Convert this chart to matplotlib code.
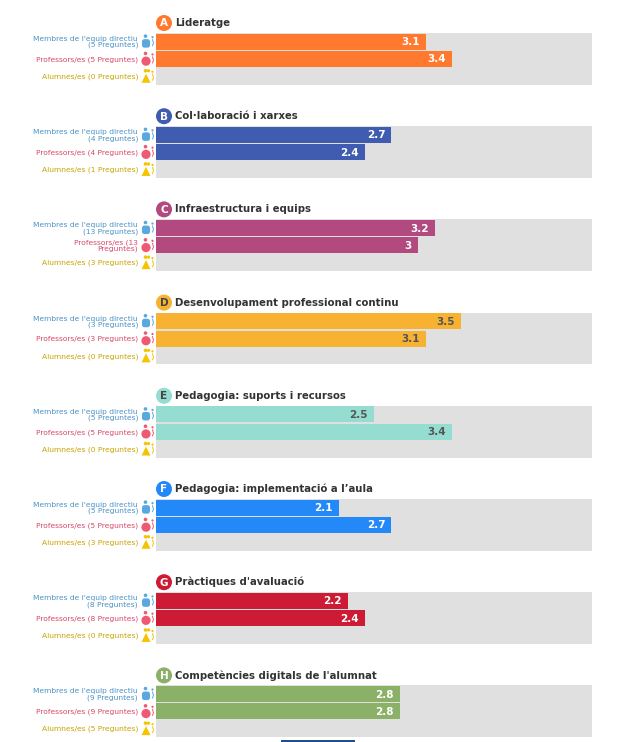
import numpy as np
import matplotlib
matplotlib.use("Agg")
import matplotlib.pyplot as plt
from matplotlib.patches import FancyBboxPatch, Circle, Polygon, Rectangle

# data
letters = ["A", "B", "C", "D", "E", "F", "G", "H"]
titles = ["Lideratge", "Col·laboració i xarxes", "Infraestructura i equips",
          "Desenvolupament professional continu", "Pedagogia: suports i recursos",
          "Pedagogia: implementació a l’aula", "Pràctiques d'avaluació",
          "Competències digitals de l'alumnat"]
colors = ["#FF7A2E", "#3F5CB0", "#B24A7F", "#F8B232", "#95DDD1", "#2389F8", "#CE1B35", "#8BB067"]
dark_text = [False, False, False, True, True, False, False, False]
members_val = [3.1, 2.7, 3.2, 3.5, 2.5, 2.1, 2.2, 2.8]
teachers_val = [3.4, 2.4, 3.0, 3.1, 3.4, 2.7, 2.4, 2.8]
members_n = [5, 4, 13, 3, 5, 5, 8, 9]
teachers_n = [5, 4, 13, 3, 5, 5, 8, 9]
students_n = [0, 1, 3, 0, 0, 3, 0, 5]
xmax = 5

W, H = 632, 742
fig = plt.figure(figsize=(W / 100, H / 100), dpi=100)

blue_t, pink_t, yel_t = "#4B93C6", "#D9486B", "#C9A400"
blue_i, pink_i, yel_i = "#5AA8E0", "#EE5A72", "#F5C400"

# overlay for decorations, pixel coordinates
deco = fig.add_axes([0, 0, 1, 1], zorder=5)
deco.set_xlim(0, W)
deco.set_ylim(H, 0)
deco.axis("off")

x0, x1 = 156, 592
row_h = 17.3


def icon(kind, cx, cy, col):
    # little person glyph next to each label
    deco.add_patch(Circle((cx - 2.5, cy - 6.5), 1.8, color=col, lw=0))
    if kind == 0:
        deco.add_patch(FancyBboxPatch((cx - 6, cy - 3.5), 8, 8.5, boxstyle="round,pad=0,rounding_size=2.5",
                                      color=col, lw=0))
    elif kind == 1:
        deco.add_patch(Circle((cx - 2, cy + 1.2), 4.6, color=col, lw=0))
    else:
        deco.add_patch(Circle((cx + 0.5, cy - 6.5), 1.6, color=col, lw=0))
        deco.add_patch(Polygon([[cx - 6.5, cy + 5.5], [cx + 2.5, cy + 5.5], [cx - 2, cy - 3.5]],
                               color=col, lw=0))
    deco.plot([cx + 4.5, cx + 5.5, cx + 4.5], [cy - 3, cy + 0.5, cy + 3], color=col, lw=0.7)
    deco.add_patch(Circle((cx + 4.5, cy - 5.5), 1.1, color=col, lw=0))


for i in range(len(letters)):
    top = 33 + 93.2 * i
    ax = fig.add_axes([x0 / W, 1 - (top + 3 * row_h) / H, (x1 - x0) / W, 3 * row_h / H])
    ax.set_facecolor("#E0E0E0")
    vals = [members_val[i], teachers_val[i]]
    ax.barh([0, 1], vals, height=0.93, color=colors[i], edgecolor="none")
    ax.set_xlim(0, xmax)
    ax.set_ylim(2.5, -0.5)
    ax.set_xticks([])
    ax.set_yticks([])
    for s in ax.spines.values():
        s.set_visible(False)
    tc = "#555555" if dark_text[i] else "white"
    for r, v in enumerate(vals):
        ax.text(v - 0.07, r + 0.03, f"{v:g}", ha="right", va="center", fontsize=7.5,
                fontweight="bold", color=tc)

    # title with letter badge
    ty = top - 10
    deco.add_patch(Circle((164, ty), 8, color=colors[i], lw=0))
    deco.text(164, ty + 0.5, letters[i], ha="center", va="center", fontsize=7.5, fontweight="bold",
              color="#444444" if dark_text[i] else "white")
    deco.text(175, ty, titles[i], ha="left", va="center", fontsize=7.3, fontweight="bold", color="#333333")

    # row labels
    labels = [f"Membres de l'equip directiu\n({members_n[i]} Preguntes)",
              f"Professors/es ({teachers_n[i]} Preguntes)",
              f"Alumnes/es ({students_n[i]} Preguntes)"]
    if teachers_n[i] >= 10:
        labels[1] = f"Professors/es ({teachers_n[i]}\nPreguntes)"
    for r, (lab, tcol, icol) in enumerate(zip(labels, [blue_t, pink_t, yel_t], [blue_i, pink_i, yel_i])):
        cy = top + row_h * (r + 0.5)
        deco.text(138, cy + 0.5, lab, ha="right", va="center", fontsize=5.4, color=tcol,
                  linespacing=1.0)
        icon(r, 148, cy + 1, icol)

# cut-off element at the very bottom
deco.add_patch(Rectangle((281, 740), 74, 3, color="#1F4E8C", lw=0))

fig.savefig("out.png", dpi=100, facecolor="white")
